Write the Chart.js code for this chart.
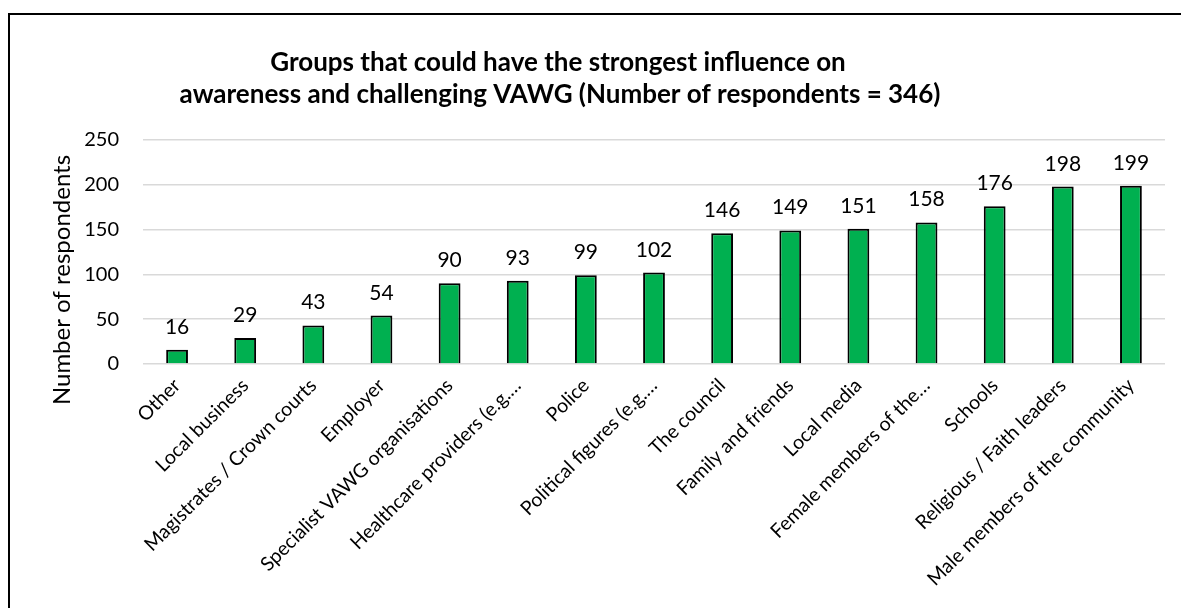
<!DOCTYPE html>
<html>
<head>
<meta charset="utf-8">
<script src="https://cdn.jsdelivr.net/npm/chart.js@4/dist/chart.umd.min.js"></script>
<style>
  body { margin: 0; background: #fff; overflow: hidden; }
  #wrap { position: relative; width: 1181px; height: 608px; }
  #frame { position: absolute; left: 8px; top: 13px; width: 1400px; height: 900px; border: 2px solid #000; box-sizing: border-box; }
  #dataChart { position: absolute; left: 0; top: 0; }
</style>
</head>
<body>
<div id="wrap">
  <div id="frame"></div>
  <canvas id="dataChart" width="1181" height="608"></canvas>
</div>
<script>
// Data
const categories = [
  'Other', 'Local business', 'Magistrates / Crown courts', 'Employer',
  'Specialist VAWG organisations', 'Healthcare providers (e.g.…', 'Police',
  'Political figures (e.g.…', 'The council', 'Family and friends', 'Local media',
  'Female members of the…', 'Schools', 'Religious / Faith leaders',
  'Male members of the community'
];
const respondents = [16, 29, 43, 54, 90, 93, 99, 102, 146, 149, 151, 158, 176, 198, 199];
const yTicks = [0, 50, 100, 150, 200, 250];
const titleLines = [
  'Groups that could have the strongest influence on',
  'awareness and challenging VAWG (Number of respondents = 346)'
];
const yTitle = 'Number of respondents';

const FONT = 'Lato, "Open Sans", sans-serif';

// Popisky hodnot nad sloupci, nadpis a titulek osy
const textPlugin = {
  id: 'texts',
  afterDatasetsDraw(chart) {
    const c = chart.ctx;
    c.save();
    c.fillStyle = '#000';
    c.textAlign = 'center';
    c.textBaseline = 'alphabetic';
    c.font = '21px ' + FONT;
    chart.getDatasetMeta(0).data.forEach((bar, i) => {
      c.fillText(respondents[i], bar.x, bar.y - 16);
    });

    c.font = 'bold 26px ' + FONT;
    c.fillText(titleLines[0], 558, 71);
    c.fillText(titleLines[1], 560, 103);

    c.translate(62, 280);
    c.rotate(-Math.PI / 2);
    c.textBaseline = 'middle';
    c.font = '24px ' + FONT;
    c.fillText(yTitle, 0, 0);
    c.restore();
  }
};

const ctx = document.getElementById('dataChart').getContext('2d');

dataChart = new Chart(ctx, {
  type: 'bar',
  data: {
    labels: categories,
    datasets: [{
      data: respondents,
      backgroundColor: '#00B050',
      borderColor: '#000',
      borderWidth: 2,
      barPercentage: 0.32,
      categoryPercentage: 1
    }]
  },
  options: {
    responsive: false,
    animation: false,
    layout: { padding: { top: 140, right: 16, left: 0, bottom: 0 } },
    plugins: {
      legend: { display: false },
      title: { display: false },
      tooltip: { enabled: false }
    },
    scales: {
      x: {
        grid: { display: false },
        border: { display: false },
        ticks: {
          color: '#000',
          font: { family: FONT, size: 19.5 },
          maxRotation: 45,
          minRotation: 45,
          autoSkip: false,
          padding: 2
        },
        afterFit(scale) { scale.height = 244; }
      },
      y: {
        min: 0,
        max: 250,
        afterBuildTicks(scale) { scale.ticks = yTicks.map(v => ({ value: v })); },
        grid: { color: '#D9D9D9', lineWidth: 1.5, drawTicks: false },
        border: { display: false },
        ticks: {
          color: '#000',
          font: { family: FONT, size: 20 },
          padding: 24
        },
        afterFit(scale) { scale.width = 143; }
      }
    }
  },
  plugins: [textPlugin]
});
</script>
</body>
</html>
